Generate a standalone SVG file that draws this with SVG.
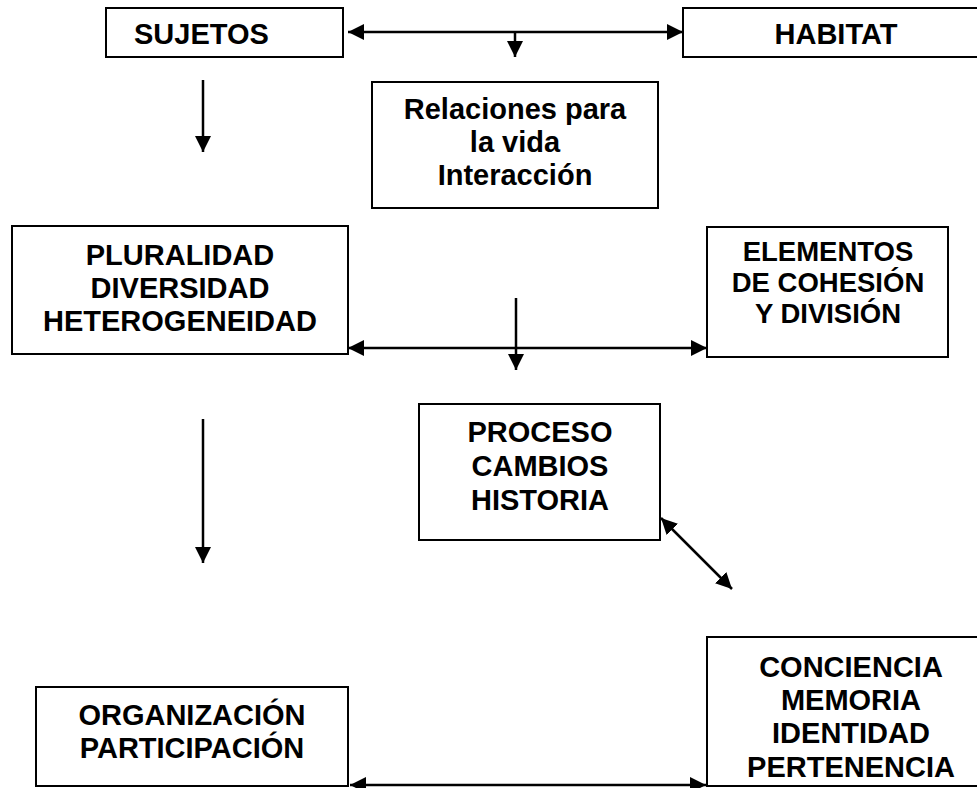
<svg xmlns="http://www.w3.org/2000/svg" width="977" height="788" viewBox="0 0 977 788">
<defs>
<style>
.box{fill:#fff;stroke:#000;stroke-width:2}
.t{font-family:"Liberation Sans",Arial,sans-serif;font-weight:bold;font-size:29px;fill:#000;text-anchor:middle}
.s{font-size:27.5px}
.c{fill:none;stroke:#000;stroke-width:2.5}
</style>
<marker id="ah" markerUnits="userSpaceOnUse" markerWidth="17" markerHeight="17" refX="16" refY="8" orient="auto-start-reverse" viewBox="0 0 17 16">
<path d="M0,0 L16,8 L0,16 z" fill="#000"/>
</marker>
</defs>
<rect width="977" height="788" fill="#fff"/>
<g id="sujetos"><rect class="box" x="106" y="8" width="237" height="49"/><text class="t" x="134" y="44" style="text-anchor:start">SUJETOS</text></g>
<g id="habitat"><rect class="box" x="683" y="8" width="310" height="49"/><text class="t" x="836" y="44">HABITAT</text></g>
<g id="relaciones"><rect class="box" x="372" y="82" width="286" height="126"/><text class="t" x="515" y="119">Relaciones para</text><text class="t" x="515" y="152">la vida</text><text class="t" x="515" y="185">Interacción</text></g>
<g id="pluralidad"><rect class="box" x="12" y="226" width="336" height="128"/><text class="t" x="180" y="265">PLURALIDAD</text><text class="t" x="180" y="298">DIVERSIDAD</text><text class="t" x="180" y="331">HETEROGENEIDAD</text></g>
<g id="elementos"><rect class="box" x="707" y="227" width="241" height="130"/><text class="t s" x="828" y="261">ELEMENTOS</text><text class="t s" x="828" y="292">DE COHESIÓN</text><text class="t s" x="828" y="323">Y DIVISIÓN</text></g>
<g id="proceso"><rect class="box" x="419" y="404" width="241" height="136"/><text class="t" x="540" y="442">PROCESO</text><text class="t" x="540" y="476">CAMBIOS</text><text class="t" x="540" y="510">HISTORIA</text></g>
<g id="conciencia"><rect class="box" x="707" y="637" width="290" height="149"/><text class="t" x="851" y="677">CONCIENCIA</text><text class="t" x="851" y="710">MEMORIA</text><text class="t" x="851" y="743">IDENTIDAD</text><text class="t" x="851" y="777">PERTENENCIA</text></g>
<g id="organizacion"><rect class="box" x="36" y="687" width="312" height="99"/><text class="t" x="192" y="725">ORGANIZACIÓN</text><text class="t" x="192" y="758">PARTICIPACIÓN</text></g>
<g id="connectors">
<line class="c" x1="348" y1="32" x2="683" y2="32" marker-start="url(#ah)" marker-end="url(#ah)"/>
<line class="c" x1="515" y1="32" x2="515" y2="57" marker-end="url(#ah)"/>
<line class="c" x1="203" y1="80" x2="203" y2="152" marker-end="url(#ah)"/>
<line class="c" x1="348" y1="348" x2="707" y2="348" marker-start="url(#ah)" marker-end="url(#ah)"/>
<line class="c" x1="516" y1="298" x2="516" y2="370" marker-end="url(#ah)"/>
<line class="c" x1="203" y1="419" x2="203" y2="563" marker-end="url(#ah)"/>
<line class="c" x1="661" y1="518" x2="732" y2="589" marker-start="url(#ah)" marker-end="url(#ah)"/>
<line class="c" x1="350" y1="785" x2="706" y2="785" marker-start="url(#ah)" marker-end="url(#ah)"/>
</g>
</svg>
